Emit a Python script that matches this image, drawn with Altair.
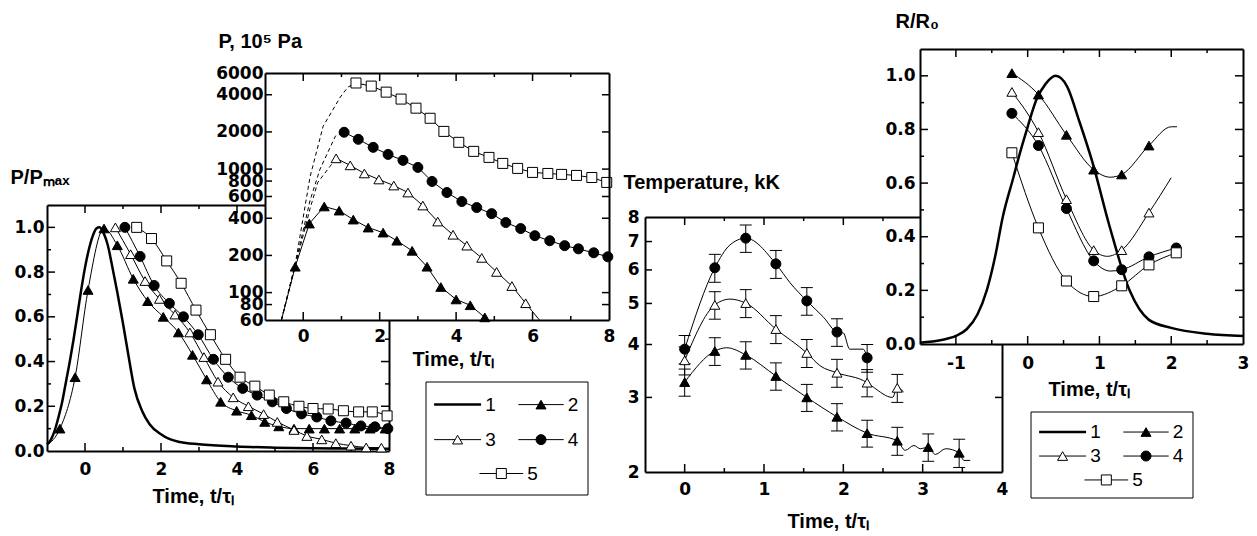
import altair as alt
import pandas as pd

W, H = 1241, 526
FONT = "Liberation Sans"
LFONT = "DejaVu Sans"
LBL = 17
TTL = 20
TICK_COLOR = "black"

# ============================ DATA ============================
# ---- Panel 1 : P/Pmax vs t/tau ----
p1_t1 = [-1.0, -0.9, -0.8, -0.7, -0.6, -0.5, -0.4, -0.3, -0.2, -0.1, 0.0, 0.1, 0.2, 0.3, 0.38,
         0.5, 0.6, 0.7, 0.85, 1.0, 1.15, 1.3, 1.5, 1.7, 2.0, 2.2, 2.5, 3.0, 4.0, 5.0, 6.0, 7.0, 8.0]
p1_v1 = [0.03, 0.05, 0.09, 0.15, 0.22, 0.31, 0.40, 0.50, 0.61, 0.72, 0.82, 0.90, 0.96, 0.995, 1.0,
         0.97, 0.92, 0.84, 0.71, 0.57, 0.42, 0.28, 0.18, 0.12, 0.075, 0.055, 0.04, 0.03, 0.02, 0.015, 0.012, 0.011, 0.01]
p1_t2 = [-0.66, -0.26, 0.08, 0.5, 0.85, 1.27, 1.65, 2.06, 2.46, 2.83, 3.2, 3.57, 3.99, 4.38, 4.73,
         5.1, 5.5, 5.9, 6.3, 6.7, 7.1, 7.5, 7.9]
p1_v2 = [0.10, 0.33, 0.72, 0.995, 0.92, 0.77, 0.67, 0.60, 0.53, 0.43, 0.32, 0.22, 0.18, 0.16, 0.13,
         0.11, 0.10, 0.10, 0.10, 0.10, 0.10, 0.10, 0.10]
p1_t3 = [0.8, 1.2, 1.58, 1.96, 2.37, 2.76, 3.13, 3.5, 3.9, 4.3, 4.7, 5.06, 5.5, 5.84, 6.23, 6.6, 7.0, 7.4, 7.8]
p1_v3 = [1.0, 0.88, 0.76, 0.68, 0.61, 0.53, 0.42, 0.31, 0.24, 0.20, 0.165, 0.13, 0.094, 0.067, 0.052,
         0.035, 0.024, 0.016, 0.015]
p1_t4 = [1.05, 1.45, 1.82, 2.22, 2.59, 2.98, 3.38, 3.77, 4.15, 4.53, 4.93, 5.3, 5.7, 6.1, 6.47, 6.87,
         7.26, 7.63, 7.97]
p1_v4 = [1.0, 0.87, 0.74, 0.66, 0.60, 0.52, 0.41, 0.33, 0.28, 0.25, 0.22, 0.19, 0.166, 0.152, 0.135,
         0.125, 0.112, 0.108, 0.10]
p1_t5 = [1.36, 1.75, 2.15, 2.53, 2.92, 3.3, 3.7, 4.08, 4.47, 4.85, 5.23, 5.63, 6.0, 6.4, 6.8, 7.2, 7.56, 7.95]
p1_v5 = [1.0, 0.95, 0.85, 0.75, 0.63, 0.52, 0.41, 0.33, 0.29, 0.25, 0.22, 0.20, 0.19, 0.188, 0.18,
         0.175, 0.175, 0.157]
p1_line2_t = [-1.0]          # line-only start of series 2
p1_line2_v = [0.025]

# ---- Panel 2 : P, 10^5 Pa (log) ----
p2_t2 = [-0.21, 0.16, 0.55, 0.94, 1.31, 1.7, 2.09, 2.45, 2.85, 3.24, 3.6, 4.0, 4.37, 4.75]
p2_v2 = [162, 362, 498, 461, 390, 336, 306, 263, 218, 162, 111, 88, 79, 63]
p2_t3 = [0.86, 1.23, 1.6, 1.98, 2.37, 2.74, 3.13, 3.52, 3.92, 4.28, 4.67, 5.06, 5.46, 5.82]
p2_v3 = [1222, 1072, 922, 824, 736, 646, 507, 376, 294, 240, 191, 147, 113, 82]
p2_t4 = [1.07, 1.44, 1.83, 2.22, 2.61, 3.0, 3.37, 3.76, 4.15, 4.54, 4.93, 5.3, 5.69, 6.06, 6.45, 6.84,
         7.2, 7.6, 7.97]
p2_v4 = [1987, 1742, 1500, 1315, 1177, 1032, 794, 646, 546, 488, 436, 369, 330, 289, 263, 240, 226, 210, 195]
p2_t5 = [1.38, 1.78, 2.17, 2.56, 2.95, 3.32, 3.68, 4.07, 4.46, 4.86, 5.22, 5.61, 6.0, 6.4, 6.76, 7.15, 7.55, 7.94]
p2_v5 = [4980, 4700, 4200, 3690, 3115, 2580, 2020, 1647, 1392, 1244, 1112, 1013, 940, 922, 906, 889, 855, 780]
p2_line2_t = [-0.57, 4.8]     # line-only ends
p2_line2_v = [60, 60]
p2_line3_t = [6.18]
p2_line3_v = [60]
p2_line5_t = [8.0]
p2_line5_v = [765]
p2_dash3_t = [-0.57, -0.2, 0.18, 0.38, 0.7, 0.86]
p2_dash3_v = [60, 168, 480, 780, 1050, 1222]
p2_dash4_t = [-0.57, -0.2, 0.18, 0.44, 0.84, 1.07]
p2_dash4_v = [60, 172, 560, 1000, 1845, 1987]
p2_dash5_t = [-0.57, -0.2, 0.18, 0.52, 0.97, 1.17, 1.38]
p2_dash5_v = [60, 176, 870, 2220, 3830, 4610, 4980]

# ---- Panel 3 : Temperature, kK (log) with error bars ----
p3_t = [0.0, 0.38, 0.77, 1.15, 1.54, 1.92, 2.3, 2.68, 3.07, 3.46]
p3_v2 = [3.26, 3.86, 3.78, 3.37, 3.0, 2.7, 2.47, 2.37, 2.29, 2.22]
p3_e2 = [0.24, 0.29, 0.28, 0.25, 0.22, 0.2, 0.18, 0.18, 0.17, 0.17]
p3_v3 = [3.67, 4.96, 5.01, 4.35, 3.82, 3.43, 3.25, 3.16]
p3_e3 = [0.28, 0.37, 0.38, 0.33, 0.29, 0.26, 0.24, 0.24]
p3_v4 = [3.9, 6.07, 7.13, 6.2, 5.07, 4.28, 3.72]
p3_e4 = [0.3, 0.46, 0.53, 0.47, 0.38, 0.32, 0.28]
p3_line2_t = [0.53, 2.78, 2.89, 2.97, 3.16, 3.29, 3.52, 3.6]
p3_line2_v = [3.93, 2.25, 2.31, 2.27, 2.2, 2.27, 2.13, 2.13]
p3_line3_t = [0.57, 1.71, 2.38, 2.62, 2.76]
p3_line3_v = [5.12, 3.56, 3.17, 3.0, 3.09]
p3_line4_t = [0.57, 1.33, 1.75, 2.0, 2.08, 2.25]
p3_line4_v = [6.87, 5.59, 4.64, 4.26, 3.9, 3.9]

# ---- Panel 4 : R/R0 ----
p4_t1 = [-1.5, -1.2, -1.0, -0.85, -0.7, -0.57, -0.45, -0.35, -0.2, -0.11, 0.0, 0.12, 0.25, 0.39,
         0.55, 0.72, 0.9, 1.14, 1.42, 1.69, 2.0, 2.5, 3.0]
p4_v1 = [0.005, 0.015, 0.03, 0.055, 0.11, 0.2, 0.33, 0.47, 0.62, 0.71, 0.81, 0.91, 0.97, 1.0,
         0.96, 0.83, 0.68, 0.44, 0.2, 0.09, 0.06, 0.038, 0.03]
p4_t = [-0.22, 0.15, 0.54, 0.92, 1.31, 1.69, 2.07]
p4_v2 = [1.01, 0.93, 0.78, 0.65, 0.632, 0.74]
p4_v3 = [0.94, 0.79, 0.54, 0.35, 0.35, 0.49]
p4_v4 = [0.86, 0.74, 0.505, 0.31, 0.277, 0.325, 0.358]
p4_v5 = [0.713, 0.433, 0.235, 0.177, 0.217, 0.295, 0.34]
p4_line2_t = [1.15, 2.0, 2.08]
p4_line2_v = [0.622, 0.81, 0.81]
p4_line3_t = [1.11, 2.0]
p4_line3_v = [0.327, 0.62]
p4_line4_t = [1.15]
p4_line4_v = [0.272]

# ---- axis ticks / labels ----
p1_xlabels = [0, 2, 4, 6, 8]
p1_xmajor = [0, 2, 4, 6]
p1_xminor = [1, 3, 5, 7]
p1_ylabels = [0.0, 0.2, 0.4, 0.6, 0.8, 1.0]
p1_ymajor = [0.2, 0.4, 0.6, 0.8, 1.0]
p1_yminor = [0.1, 0.3, 0.5, 0.7, 0.9]
p2_xlabels = [0, 2, 4, 6, 8]
p2_xmajor = [0, 2, 4, 6]
p2_xminor = [1, 3, 5, 7]
p2_ylabels = [60, 80, 100, 200, 400, 600, 800, 1000, 2000, 4000, 6000]
p2_ymajor = [80, 100, 200, 400, 600, 800, 1000, 2000, 4000]
p2_yminor = []
p3_xlabels = [0, 1, 2, 3, 4]
p3_xmajor = [0, 1, 2, 3]
p3_xminor = [0.5, 1.5, 2.5, 3.5]
p3_ylabels = [2, 3, 4, 5, 6, 7, 8]
p3_ymajor = [3, 4, 5, 6, 7]
p3_yminor = []
p4_xlabels = [-1, 0, 1, 2, 3]
p4_xmajor = [-1, 0, 1, 2]
p4_xminor = [-0.5, 0.5, 1.5, 2.5]
p4_ylabels = [0.0, 0.2, 0.4, 0.6, 0.8, 1.0]
p4_ymajor = [0.2, 0.4, 0.6, 0.8, 1.0]
p4_yminor = [0.1, 0.3, 0.5, 0.7, 0.9]

LEG_NAMES = ["1", "2", "3", "4", "5"]

# ============================ STYLE / LAYOUT ============================
SER = ["2", "3", "4", "5"]
SHAPE = alt.Shape("s:N", scale=alt.Scale(domain=SER, range=["triangle-up", "triangle-up", "circle", "square"]), legend=None)
FILL = alt.Fill("s:N", scale=alt.Scale(domain=SER, range=["black", "white", "black", "white"]), legend=None)
SIZE = alt.Size("s:O", scale=alt.Scale(domain=SER, range=[100, 100, 75, 60]), legend=None)
TMAJ, TMIN = 8, 4

G1 = dict(x0=39, x1=381, yb=443, yt=197, xdom=[-1, 8], ydom=[0, 1.1], log=False, z=0, xpad=10, ypad=3,
          xlab=p1_xlabels, xmaj=p1_xmajor, xmin=p1_xminor, xfmt="'' + datum.value",
          ylab=p1_ylabels, ymaj=p1_ymajor, ymin=p1_yminor, yfmt="format(datum.value, '.1f')",
          xtitle="Time, t/τₗ", xtx=144, xty=494, ytitle="P/Pₘₐₓ", ytx=2, yty=175)
G2 = dict(x0=257, x1=601, yb=312, yt=65, xdom=[-1, 8], ydom=[60, 6000], log=True, z=1, xpad=8, ypad=2,
          xlab=p2_xlabels, xmaj=p2_xmajor, xmin=p2_xminor, xfmt="'' + datum.value",
          ylab=p2_ylabels, ymaj=p2_ymajor, ymin=p2_yminor, yfmt="'' + datum.value",
          xtitle="Time, t/τₗ", xtx=404, xty=357, ytitle="P, 10⁵ Pa", ytx=210, yty=39)
G3 = dict(x0=637, x1=994, yb=464, yt=209, xdom=[-0.5, 4], ydom=[2, 8], log=True, z=0, xpad=9, ypad=6,
          xlab=p3_xlabels, xmaj=p3_xmajor, xmin=p3_xminor, xfmt="'' + datum.value",
          ylab=p3_ylabels, ymaj=p3_ymajor, ymin=p3_yminor, yfmt="'' + datum.value",
          xtitle="Time, t/τₗ", xtx=779, xty=519, ytitle="Temperature, kK", ytx=615, yty=180)
G4 = dict(x0=912, x1=1235, yb=336, yt=41, xdom=[-1.5, 3], ydom=[0, 1.1], log=False, z=1, xpad=11, ypad=5,
          xlab=p4_xlabels, xmaj=p4_xmajor, xmin=p4_xminor, xfmt="'' + datum.value",
          ylab=p4_ylabels, ymaj=p4_ymajor, ymin=p4_yminor, yfmt="format(datum.value, '.1f')",
          xtitle="Time, t/τₗ", xtx=1040, xty=387, ytitle="R/R₀", ytx=887, yty=19)

AX = dict(grid=False, domainColor="black", domainWidth=2, labelColor="black", labelFont=LFONT,
          labelFontSize=LBL, labelFontWeight="bold", labelFlush=False, labelOverlap=False,
          ticks=False, tickSize=0)
TT = dict(titleColor="black", titleFont=FONT, titleFontSize=TTL, titleFontWeight="bold",
          titleAngle=0, titleAlign="left", titleBaseline="alphabetic")


def xscale(g):
    return alt.Scale(domain=g["xdom"], range=[g["x0"], g["x1"]], nice=False, zero=False)


def yscale(g):
    if g["log"]:
        return alt.Scale(type="log", domain=g["ydom"], range=[g["yb"], g["yt"]], nice=False)
    return alt.Scale(domain=g["ydom"], range=[g["yb"], g["yt"]], nice=False, zero=False)


def label_axes(g):
    xa = alt.Axis(orient="bottom", offset=g["yb"] - H, values=g["xlab"], labelExpr=g["xfmt"],
                  domain=True, labelPadding=g["xpad"], title=g["xtitle"],
                  titleX=g["xtx"], titleY=g["xty"] - g["yb"], zindex=g["z"], **AX, **TT)
    ya = alt.Axis(orient="left", offset=-g["x0"], values=g["ylab"], labelExpr=g["yfmt"],
                  domain=True, labelPadding=g["ypad"], title=g["ytitle"],
                  titleX=g["ytx"] - g["x0"], titleY=g["yty"], zindex=g["z"], **AX, **TT)
    return xa, ya


def frame_df(g):
    return pd.DataFrame({"t": [g["xdom"][0]], "t2": [g["xdom"][1]],
                         "v": [g["ydom"][0]], "v2": [g["ydom"][1]]})


def tick_marks(g, X, Y):
    """Inward ticks on all four sides, placed through the panel's own scales."""
    (xa, xb), (ya, yb) = g["xdom"], g["ydom"]
    out = []
    for vals, ln in [(g["xmaj"], TMAJ), (g["xmin"], TMIN)]:
        if not vals:
            continue
        df = pd.DataFrame({"t": vals, "lo": [ya] * len(vals), "hi": [yb] * len(vals)})
        out.append(alt.Chart(df).mark_rule(color=TICK_COLOR, strokeWidth=1.5, y2Offset=-ln).encode(
            x=X("t"), y=Y("lo"), y2="lo"))
        out.append(alt.Chart(df).mark_rule(color=TICK_COLOR, strokeWidth=1.5, y2Offset=ln).encode(
            x=X("t"), y=Y("hi"), y2="hi"))
    ymaj_len = TMAJ if g["ymin"] else 7
    for vals, ln in [(g["ymaj"], ymaj_len), (g["ymin"], TMIN)]:
        if not vals:
            continue
        df = pd.DataFrame({"v": vals, "lo": [xa] * len(vals), "hi": [xb] * len(vals)})
        out.append(alt.Chart(df).mark_rule(color=TICK_COLOR, strokeWidth=1.5, x2Offset=ln).encode(
            y=Y("v"), x=X("lo"), x2="lo"))
        out.append(alt.Chart(df).mark_rule(color=TICK_COLOR, strokeWidth=1.5, x2Offset=-ln).encode(
            y=Y("v"), x=X("hi"), x2="hi"))
    return out


def panel(g, white, builders):
    z = g["z"]
    xa, ya = label_axes(g)

    def X(f):
        return alt.X(f + ":Q", scale=xscale(g), axis=xa)

    def Y(f):
        return alt.Y(f + ":Q", scale=yscale(g), axis=ya)

    parts = []
    if white:
        parts.append(alt.Chart(frame_df(g)).mark_rect(color="white", opacity=1).encode(
            x=X("t"), x2="t2", y=Y("v"), y2="v2"))
    parts += tick_marks(g, X, Y)
    parts += [b(X, Y) for b in builders]
    data = alt.layer(*parts)
    # top & right frame lines (mirror axes without labels)
    cx = alt.Axis(orient="bottom", offset=g["yt"] - H, values=g["xlab"], labels=False, domain=True,
                  title=None, zindex=z, **AX)
    cy = alt.Axis(orient="left", offset=-g["x1"], values=g["ylab"], labels=False, domain=True,
                  title=None, zindex=z, **AX)
    top = alt.Chart(frame_df(g)).mark_rect(opacity=0).encode(
        x=alt.X("t:Q", scale=xscale(g), axis=cx), x2="t2",
        y=alt.Y("v:Q", scale=yscale(g), axis=cy), y2="v2")
    return [data, top]


def sdf(parts):
    return pd.concat([pd.DataFrame({"t": t, "v": v, "s": s}) for s, t, v in parts], ignore_index=True)


def line_b(df, width=1.0, dash=None, interp="monotone"):
    def b(X, Y):
        kw = dict(color="black", strokeWidth=width, interpolate=interp)
        if dash:
            kw["strokeDash"] = dash
        return alt.Chart(df).mark_line(**kw).encode(x=X("t"), y=Y("v"), detail="s:N")
    return b


def point_b(df):
    def b(X, Y):
        return alt.Chart(df).mark_point(filled=True, stroke="black", strokeWidth=1, opacity=1).encode(
            x=X("t"), y=Y("v"), shape=SHAPE, fill=FILL, size=SIZE)
    return b


def errbar_b(df):
    def b(X, Y):
        return alt.Chart(df).mark_rule(color="black", strokeWidth=1).encode(x=X("t"), y=Y("lo"), y2="hi")
    return b


def cap_b(df):
    def b(X, Y):
        return alt.Chart(df).mark_tick(orient="horizontal", size=12, thickness=1, color="black",
                                       opacity=1).encode(x=X("t"), y=Y("c"))
    return b


# ---------------- Panel 1 ----------------
p1_pts = sdf([("2", p1_t2, p1_v2), ("3", p1_t3, p1_v3), ("4", p1_t4, p1_v4), ("5", p1_t5, p1_v5)])
p1_lines = sdf([("2", p1_line2_t + p1_t2, p1_line2_v + p1_v2), ("3", p1_t3, p1_v3),
                ("4", p1_t4, p1_v4), ("5", p1_t5, p1_v5)])
p1_thick = sdf([("1", p1_t1, p1_v1)])
panel1 = panel(G1, False, [line_b(p1_thick, 2.5), line_b(p1_lines, 1.0), point_b(p1_pts)])

# ---------------- Panel 2 ----------------
p2_pts = sdf([("2", p2_t2, p2_v2), ("3", p2_t3, p2_v3), ("4", p2_t4, p2_v4), ("5", p2_t5, p2_v5)])
p2_lines = sdf([("2", p2_line2_t + p2_t2, p2_line2_v + p2_v2), ("3", p2_t3 + p2_line3_t, p2_v3 + p2_line3_v),
                ("4", p2_t4, p2_v4), ("5", p2_t5 + p2_line5_t, p2_v5 + p2_line5_v)])
p2_dash = sdf([("3", p2_dash3_t, p2_dash3_v), ("4", p2_dash4_t, p2_dash4_v), ("5", p2_dash5_t, p2_dash5_v)])
panel2 = panel(G2, True, [line_b(p2_dash, 1.0, [4, 3], "linear"), line_b(p2_lines, 1.0, None, "linear"),
                          point_b(p2_pts)])

# ---------------- Panel 3 ----------------
n2, n3, n4 = len(p3_v2), len(p3_v3), len(p3_v4)
p3_pts = sdf([("2", p3_t[:n2], p3_v2), ("3", p3_t[:n3], p3_v3), ("4", p3_t[:n4], p3_v4)])
p3_lines = sdf([("2", p3_t[:n2] + p3_line2_t, p3_v2 + p3_line2_v),
                ("3", p3_t[:n3] + p3_line3_t, p3_v3 + p3_line3_v),
                ("4", p3_t[:n4] + p3_line4_t, p3_v4 + p3_line4_v)])
err_rows = []
for s, vals, errs in [("2", p3_v2, p3_e2), ("3", p3_v3, p3_e3), ("4", p3_v4, p3_e4)]:
    for t, v, e in zip(p3_t, vals, errs):
        err_rows.append({"t": t, "lo": v - e, "hi": v + e, "s": s})
p3_err = pd.DataFrame(err_rows)
p3_caps = pd.concat([p3_err[["t", "lo"]].rename(columns={"lo": "c"}),
                     p3_err[["t", "hi"]].rename(columns={"hi": "c"})], ignore_index=True)
panel3 = panel(G3, False, [errbar_b(p3_err), cap_b(p3_caps), line_b(p3_lines, 1.0, None, "monotone"),
                           point_b(p3_pts)])

# ---------------- Panel 4 ----------------
p4_pts = sdf([("2", p4_t[:len(p4_v2)], p4_v2), ("3", p4_t[:len(p4_v3)], p4_v3),
              ("4", p4_t[:len(p4_v4)], p4_v4), ("5", p4_t[:len(p4_v5)], p4_v5)])
p4_lines = sdf([("2", p4_t[:len(p4_v2)] + p4_line2_t, p4_v2 + p4_line2_v),
                ("3", p4_t[:len(p4_v3)] + p4_line3_t, p4_v3 + p4_line3_v),
                ("4", p4_t[:len(p4_v4)] + p4_line4_t, p4_v4 + p4_line4_v),
                ("5", p4_t[:len(p4_v5)], p4_v5)])
p4_thick = sdf([("1", p4_t1, p4_v1)])
panel4 = panel(G4, True, [line_b(p4_thick, 2.5), line_b(p4_lines, 1.0), point_b(p4_pts)])


# ---------------- Legends ----------------
COLS = [(0.05, 0.34), (0.57, 0.85), (0.33, 0.60)]


def legend(box, rows):
    L, R, T, B = box
    xs = alt.Scale(domain=[0, 1], range=[L, R], nice=False, zero=False)
    ys = alt.Scale(domain=[0, 1], range=[T, B], nice=False, zero=False)
    recs = []
    for i, n in enumerate(LEG_NAMES):
        if i < 4:
            x0, x1 = COLS[i % 2]
            r = i // 2
        else:
            x0, x1 = COLS[2]
            r = 2
        recs.append({"s": n, "x0": x0, "x1": x1, "xm": (x0 + x1) / 2, "xt": x1 + 0.025, "y": rows[r]})
    df = pd.DataFrame(recs)
    box_df = pd.DataFrame({"a": [0], "b": [1], "c": [0], "d": [1]})

    def X(f):
        return alt.X(f + ":Q", scale=xs, axis=None)

    def Y(f):
        return alt.Y(f + ":Q", scale=ys, axis=None)

    frame = alt.Chart(box_df).mark_rect(fill="white", stroke="black", strokeWidth=1).encode(
        x=X("a"), x2="b", y=Y("c"), y2="d")
    thick = alt.Chart(df).transform_filter("datum.s == '1'").mark_rule(color="black", strokeWidth=2.5).encode(
        x=X("x0"), x2="x1", y=Y("y"))
    thin = alt.Chart(df).transform_filter("datum.s != '1'").mark_rule(color="black", strokeWidth=1).encode(
        x=X("x0"), x2="x1", y=Y("y"))
    pts = alt.Chart(df).transform_filter("datum.s != '1'").mark_point(
        filled=True, stroke="black", strokeWidth=1, opacity=1).encode(
        x=X("xm"), y=Y("y"), shape=SHAPE, fill=FILL, size=SIZE)
    txt = alt.Chart(df).mark_text(align="left", baseline="middle", font=FONT, fontSize=19,
                                  color="black").encode(x=X("xt"), y=Y("y"), text="s:N")
    return alt.layer(frame, thick, thin, pts, txt)


leg1 = legend((418, 580, 374, 487), [0.2, 0.51, 0.81])
leg2 = legend((1023, 1185, 404, 490), [0.233, 0.512, 0.79])

chart = alt.layer(*panel1, *panel2, *panel3, *panel4, leg1, leg2).resolve_scale(
    x="independent", y="independent"
).properties(
    width=W, height=H, padding=0, autosize=alt.AutoSizeParams(type="none")
).configure_view(strokeOpacity=0)

chart.save("out.html", embed_options={"renderer": "svg", "actions": False})
